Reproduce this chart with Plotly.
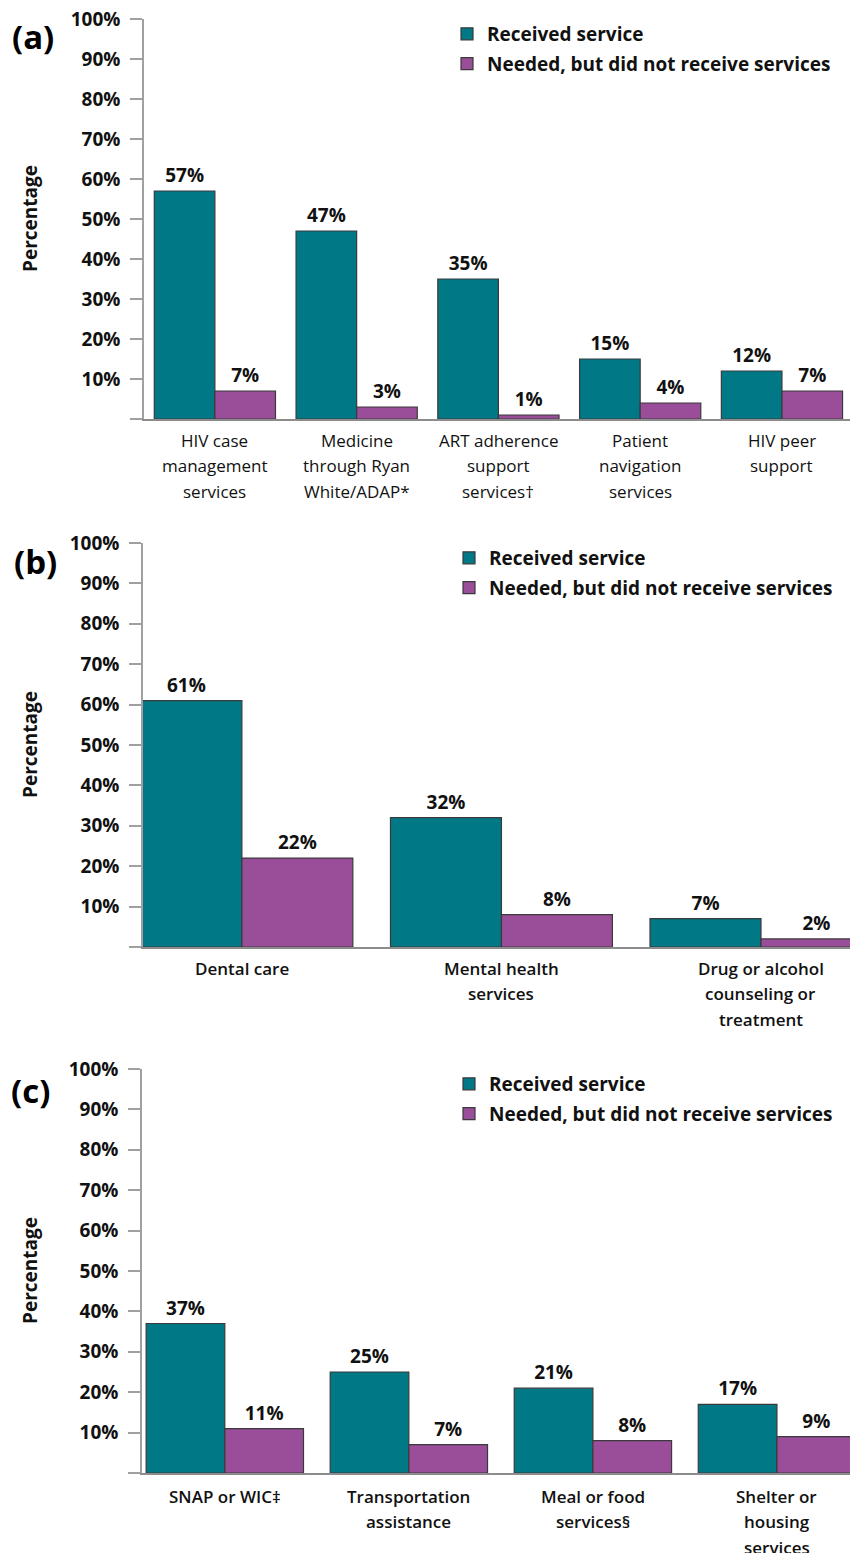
import plotly.graph_objects as go

# ---- data ----
cats_a = ["HIV case<br>management<br>services", "Medicine<br>through Ryan<br>White/ADAP*",
          "ART adherence<br>support<br>services†", "Patient<br>navigation<br>services",
          "HIV peer<br>support"]
received_a = [57, 47, 35, 15, 12]
needed_a = [7, 3, 1, 4, 7]

cats_b = ["Dental care", "Mental health<br>services", "Drug or alcohol<br>counseling or<br>treatment"]
received_b = [61, 32, 7]
needed_b = [22, 8, 2]

cats_c = ["SNAP or WIC‡", "Transportation<br>assistance", "Meal or food<br>services§",
          "Shelter or<br>housing<br>services"]
received_c = [37, 25, 21, 17]
needed_c = [11, 7, 8, 9]

series_names = ["Received service", "Needed, but did not receive services"]
y_ticks = list(range(0, 101, 10))
y_ticktext = [""] + [f"{v}%" for v in y_ticks[1:]]
panel_tags = ["(a)", "(b)", "(c)"]

# ---- styling ----
W, H = 850, 1553
TEAL = "#007886"
PURPLE = "#9a4e9a"
OUTLINE = "#3a3a3a"
AXIS_GREY = "#a0a0a0"
BOLD = "Open Sans"

panels = [
    dict(cats=cats_a, rec=received_a, need=needed_a, top=19, bottom=419, left=144,
         xr=[-0.5, 4.48], cat_font=17, cat_weight=500, first=21, legend_left=487, legend_top=33),
    dict(cats=cats_b, rec=received_b, need=needed_b, top=543, bottom=947, left=143,
         xr=[-0.381, 2.343], cat_font=17, cat_weight=600, first=21, legend_left=489, legend_top=557),
    dict(cats=cats_c, rec=received_c, need=needed_c, top=1069, bottom=1473, left=142,
         xr=[-0.45, 3.397], cat_font=17, cat_weight=600, first=23, legend_left=489, legend_top=1083),
]

fig = go.Figure()
annotations = []
layout_extra = {}

for i, p in enumerate(panels):
    n = "" if i == 0 else str(i + 1)
    xa, ya = "x" + n, "y" + n
    leg = "legend" + n

    for name, vals, color in [(series_names[0], p["rec"], TEAL), (series_names[1], p["need"], PURPLE)]:
        fig.add_trace(go.Bar(
            x=p["cats"], y=vals, name=name, xaxis=xa, yaxis=ya, legend=leg,
            legendgroup=name + n,
            marker=dict(color=color, line=dict(color=OUTLINE, width=1.2)),
            text=[f"<b>{v}%</b>" for v in vals], textposition="outside",
            textfont=dict(family=BOLD, size=19, color="#111111"),
            cliponaxis=False, hoverinfo="skip",
        ))

    layout_extra["xaxis" + n] = dict(
        domain=[p["left"] / W, 1], range=p["xr"], type="category", anchor=ya,
        showline=True, linecolor="#8c8c8c", linewidth=2, ticks="", showticklabels=False,
        showgrid=False, zeroline=False, fixedrange=True, automargin=False,
    )
    layout_extra["yaxis" + n] = dict(
        domain=[1 - p["bottom"] / H, 1 - p["top"] / H], range=[0, 100], anchor=xa,
        tickvals=y_ticks, ticktext=y_ticktext, ticks="outside", ticklen=12,
        tickcolor=AXIS_GREY, tickwidth=1.5, showline=True, linecolor=AXIS_GREY, linewidth=1.5,
        showgrid=False, zeroline=False, ticklabelstandoff=6, automargin=False,
        tickfont=dict(family=BOLD, size=19, color="#111111", weight="bold"),
    )
    layout_extra[leg] = dict(
        x=(p["legend_left"] - 40) / W, xanchor="left", xref="paper",
        y=1 - (p["legend_top"] - 18) / H, yanchor="top", yref="paper",
        bgcolor="rgba(0,0,0,0)", borderwidth=0, traceorder="grouped",
        tracegroupgap=2,
        font=dict(family=BOLD, size=19, color="#111111", weight="bold"),
    )

    # category labels, one line at a time for even line spacing
    for cat in p["cats"]:
        for j, line in enumerate(cat.split("<br>")):
            annotations.append(dict(
                x=cat, y=0, xref=xa, yref=ya, text=line, showarrow=False,
                xanchor="center", yanchor="middle", yshift=-(p["first"] + 25.5 * j),
                font=dict(family="Open Sans", size=p["cat_font"], color="#111111",
                          weight=p["cat_weight"]),
            ))

    # axis title
    annotations.append(dict(
        x=30 / W, y=0.5, xref="paper", yref=ya + " domain", text="<b>Percentage</b>",
        textangle=-90, showarrow=False, xanchor="center", yanchor="middle",
        font=dict(family=BOLD, size=19, color="#111111"),
    ))

# panel tags
for tag, (cx, cy) in zip(panel_tags, [(33, 37), (35, 561), (30, 1090)]):
    annotations.append(dict(
        x=cx / W, y=1 - cy / H, xref="paper", yref="paper", text=f"<b>{tag}</b>",
        showarrow=False, xanchor="center", yanchor="middle",
        font=dict(family=BOLD, size=33, color="#000000"),
    ))

fig.update_layout(
    width=W, height=H, margin=dict(l=0, r=0, t=0, b=0, autoexpand=False),
    paper_bgcolor="white", plot_bgcolor="white",
    barmode="group", bargap=0.145, bargroupgap=0,
    showlegend=True, annotations=annotations,
    **layout_extra,
)

fig.write_html("out.html")
